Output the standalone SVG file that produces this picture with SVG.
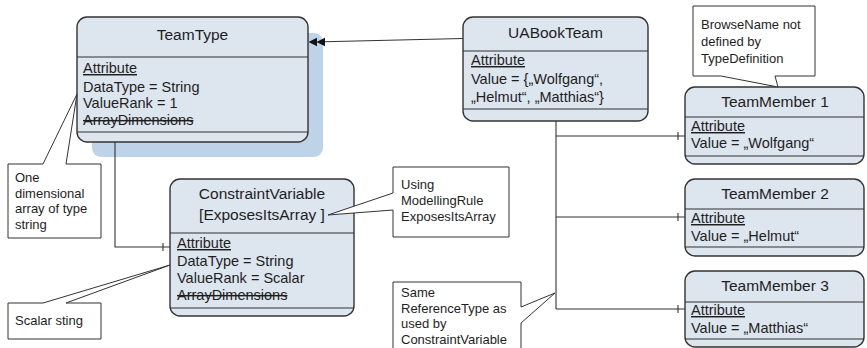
<svg xmlns="http://www.w3.org/2000/svg" width="867" height="348" viewBox="0 0 867 348">
<style>
text{font-family:"Liberation Sans",Arial,sans-serif;fill:#1e1e1e}
.box{fill:#dde5ef;stroke:#333;stroke-width:1.4}
.div{stroke:#333;stroke-width:1.2;fill:none}
.title{font-size:15.5px;text-anchor:middle}
.attr{font-size:14.5px}
.u{text-decoration:underline}
.s{text-decoration:line-through}
.note{fill:#fff;stroke:#333;stroke-width:1}
.nt{font-size:13px}
.con{stroke:#333;stroke-width:1.1;fill:none}
.ah{fill:#111;stroke:none}
</style>

<g id="TeamType">
<rect x="92" y="33" width="231" height="124" rx="9" fill="#bed2e8"/>
<rect class="box" x="77" y="17" width="231" height="125" rx="10"/>
<path class="div" d="M77,57 H308 M77,132 H308"/>
<text class="title" x="192.5" y="40">TeamType</text>
<text class="attr u" x="83" y="73">Attribute</text>
<text class="attr" x="83" y="92">DataType = String</text>
<text class="attr" x="83" y="108">ValueRank = 1</text>
<text class="attr s" x="83" y="125">ArrayDimensions</text>
</g>

<g id="connectors">
<path class="con" d="M463,38.5 L324,41.8"/>
<polygon class="ah" points="308.5,42 317,37.8 317,46.2"/>
<polygon class="ah" points="316.5,42 325,37.8 325,46.2"/>
<path class="con" d="M115,142 L115,247 L170,247"/>
<path class="con" d="M163,243 L163,251"/>
<path class="con" d="M556,121 L556,309"/>
<path class="con" d="M556,136 L685,136 M556,217 L685,217 M556,309 L685,309"/>
<path class="con" d="M678,132 L678,140 M678,213 L678,221 M678,305 L678,313"/>
</g>

<g id="UABookTeam">
<rect class="box" x="463" y="17" width="185" height="104" rx="10"/>
<path class="div" d="M463,51 H648 M463,109 H648"/>
<text class="title" x="555.5" y="38">UABookTeam</text>
<text class="attr u" x="471" y="65">Attribute</text>
<text class="attr" x="471" y="84">Value = {„Wolfgang“,</text>
<text class="attr" x="471" y="102">„Helmut“, „Matthias“}</text>
</g>

<g id="ConstraintVariable">
<rect class="box" x="170" y="179" width="184" height="137" rx="10"/>
<path class="div" d="M170,233 H354 M170,308 H354"/>
<text class="title" x="262" y="199">ConstraintVariable</text>
<text class="title" x="262" y="220">[ExposesItsArray ]</text>
<text class="attr u" x="177" y="248">Attribute</text>
<text class="attr" x="177" y="266">DataType = String</text>
<text class="attr" x="177" y="283">ValueRank = Scalar</text>
<text class="attr s" x="177" y="300">ArrayDimensions</text>
</g>

<g id="TeamMember1">
<rect class="box" x="685" y="87" width="179" height="77" rx="10"/>
<path class="div" d="M685,117 H864 M685,156 H864"/>
<text class="title" x="775" y="107">TeamMember 1</text>
<text class="attr u" x="691" y="131">Attribute</text>
<text class="attr" x="691" y="148">Value = „Wolfgang“</text>
</g>

<g id="TeamMember2">
<rect class="box" x="685" y="179" width="179" height="77" rx="10"/>
<path class="div" d="M685,209 H864 M685,247 H864"/>
<text class="title" x="775" y="199">TeamMember 2</text>
<text class="attr u" x="691" y="223">Attribute</text>
<text class="attr" x="691" y="241">Value = „Helmut“</text>
</g>

<g id="TeamMember3">
<rect class="box" x="685" y="271" width="179" height="76" rx="10"/>
<path class="div" d="M685,302 H864 M685,339 H864"/>
<text class="title" x="775" y="291">TeamMember 3</text>
<text class="attr u" x="691" y="315">Attribute</text>
<text class="attr" x="691" y="333">Value = „Matthias“</text>
</g>

<g id="note-one-dimensional">
<polygon class="note" points="8,164 43,164 77,94 66,164 101,164 101,238 8,238"/>
<text class="nt" x="15" y="182">One</text>
<text class="nt" x="15" y="198">dimensional</text>
<text class="nt" x="15" y="213">array of type</text>
<text class="nt" x="15" y="229">string</text>
</g>

<g id="note-scalar">
<polygon class="note" points="8,303 43,303 170,265 66,303 101,303 101,339 8,339"/>
<text class="nt" x="15" y="325">Scalar sting</text>
</g>

<g id="note-modellingrule">
<polygon class="note" points="393,167 509,167 509,237 393,237 393,210 328,215 393,193"/>
<text class="nt" x="401" y="189">Using</text>
<text class="nt" x="401" y="205">ModellingRule</text>
<text class="nt" x="401" y="221">ExposesItsArray</text>
</g>

<g id="note-referencetype">
<polygon class="note" points="393,282 521,282 521,307 555,293 521,323 521,352 393,352"/>
<text class="nt" x="401" y="297">Same</text>
<text class="nt" x="401" y="313">ReferenceType as</text>
<text class="nt" x="401" y="328">used by</text>
<text class="nt" x="401" y="344">ConstraintVariable</text>
</g>

<g id="note-browsename">
<polygon class="note" points="693,6 815,6 815,76 775,76 778,87 721,76 693,76"/>
<text class="nt" x="701" y="29">BrowseName not</text>
<text class="nt" x="701" y="46">defined by</text>
<text class="nt" x="701" y="63">TypeDefinition</text>
</g>
</svg>
